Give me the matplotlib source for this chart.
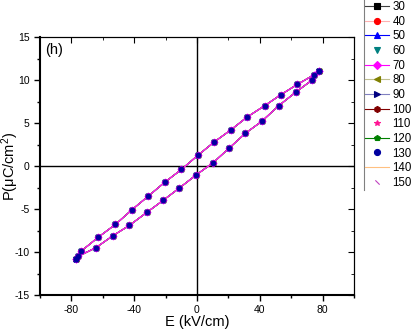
import matplotlib
matplotlib.use("Agg")
import matplotlib.pyplot as plt
from matplotlib.lines import Line2D
from matplotlib.ticker import MultipleLocator

plt.rcParams['font.family'] = ['Liberation Sans', 'DejaVu Sans']
plt.rcParams['mathtext.fontset'] = 'custom'
plt.rcParams['mathtext.rm'] = 'Liberation Sans'
plt.rcParams['mathtext.it'] = 'Liberation Sans:italic'
plt.rcParams['axes.unicode_minus'] = False

# series labels (temperature)
labels = ['30', '40', '50', '60', '70', '80', '90', '100', '110', '120', '130', '140', '150']

# P-E loop, upper branch (field going down) then lower branch (field going up)
E_upper = [77.5, 74.5, 64, 53.5, 43, 32, 21.6, 11, 0.6, -9.9, -20.6, -31, -41.5, -52, -63, -73.8, -77]
P_upper = [11.0, 10.6, 9.5, 8.3, 7.0, 5.7, 4.2, 2.8, 1.25, -0.4, -1.9, -3.5, -5.1, -6.8, -8.3, -9.9, -10.8]
E_lower = [-77, -75.6, -64.4, -53.5, -43, -32, -21.6, -11.5, -0.6, 10.4, 20.3, 30.8, 41.3, 52, 63, 73.4, 77.5]
P_lower = [-10.8, -10.5, -9.5, -8.1, -6.9, -5.4, -4.0, -2.6, -1.05, 0.4, 2.05, 3.8, 5.2, 7.0, 8.6, 10.0, 11.0]

# (line colour, marker, marker colour)
styles = [
    ('#404040', 's', 'black'),
    ('#ffb0b0', 'o', 'red'),
    ('blue', '^', 'blue'),
    ('none', 'v', '#008080'),
    ('magenta', 'D', 'magenta'),
    ('#c0c090', '<', '#808000'),
    ('#8080c0', '>', '#000080'),
    ('#800000', 'h', '#800000'),
    ('none', '*', '#ff1493'),
    ('#008000', 'p', '#008000'),
    ('none', 'o', '#0000a0'),
    ('#ffc080', 'None', '#ffc080'),
    ('none', (2, 0, 45), '#c040c0'),
]

E = E_upper + E_lower
P = P_upper + P_lower

fig = plt.figure(figsize=(4.17, 3.31), dpi=100)
ax = fig.add_axes([40/417, 1-295/331, 314/417, 258/331])

# stacking so the mix looks like the original: red/magenta lines, blue markers on top
zorders = {'40': 2.6, '70': 2.7, '130': 2.8, '140': 1.5}
for lab, (lc, mk, mc) in zip(labels, styles):
    ax.plot(E, P, color=lc, lw=0.8, marker=mk, markersize=3.5, zorder=zorders.get(lab, 2),
            markerfacecolor=mc, markeredgecolor=mc, markeredgewidth=0.8, label=lab)

ax.axhline(0, color='black', lw=1)
ax.axvline(0, color='black', lw=1)

ax.set_xlim(-100, 100)
ax.set_ylim(-15, 15)
ax.xaxis.set_major_locator(MultipleLocator(40))
ax.xaxis.set_minor_locator(MultipleLocator(20))
ax.yaxis.set_major_locator(MultipleLocator(5))
ax.yaxis.set_minor_locator(MultipleLocator(2.5))
ax.tick_params(which='both', direction='out', labelsize=7.5, width=1, top=False, right=False)
ax.tick_params(which='major', length=4)
ax.tick_params(which='minor', length=2)

for side in ['left', 'bottom']:
    ax.spines[side].set_linewidth(1.5)
for side in ['top', 'right']:
    ax.spines[side].set_linewidth(0.8)

# mirrored ticks pointing inward
top = ax.secondary_xaxis('top')
top.xaxis.set_major_locator(MultipleLocator(40))
top.xaxis.set_minor_locator(MultipleLocator(20))
top.tick_params(which='both', direction='in', labeltop=False)
top.tick_params(which='major', length=4)
top.tick_params(which='minor', length=2)
right = ax.secondary_yaxis('right')
right.yaxis.set_major_locator(MultipleLocator(5))
right.yaxis.set_minor_locator(MultipleLocator(2.5))
right.tick_params(which='both', direction='in', labelright=False)
right.tick_params(which='major', length=4)
right.tick_params(which='minor', length=2)

ax.set_xlabel('E (kV/cm)', fontsize=10.5, labelpad=0)
ax.set_ylabel('P(μC/cm$^2$)', fontsize=10.5)
ax.yaxis.set_label_coords(-0.062, 0.5)
ax.text(0.015, 0.975, '(h)', transform=ax.transAxes, fontsize=10.5, ha='left', va='top')

fig.legend(loc='upper left', bbox_to_anchor=(365/417, 1 - 1/331), frameon=False,
           fontsize=8.3, borderpad=0, borderaxespad=0, handlelength=2.1,
           handletextpad=0.3, labelspacing=0.23, markerscale=1.25)
fig.add_artist(Line2D([364/417, 364/417], [1, 1 - 190/331], color='gray', lw=0.8))

fig.savefig('out.png', dpi=100)
